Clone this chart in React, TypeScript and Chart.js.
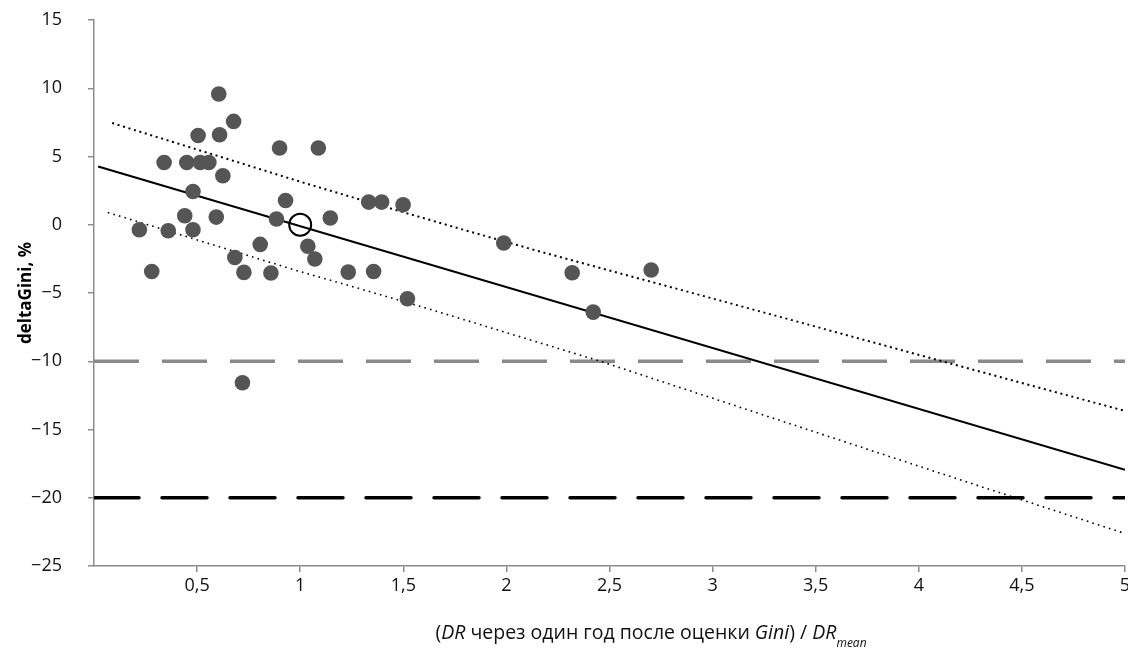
import React, { useEffect, useRef } from "react";
import { Chart, registerables } from "chart.js";

Chart.register(...registerables);

// Observed points: x = DR ratio, y = deltaGini (%)
const pointX = [
  0.22, 0.28, 0.34, 0.36, 0.44, 0.45, 0.48, 0.48, 0.505, 0.515,
  0.557, 0.593, 0.605, 0.609, 0.625, 0.683, 0.677, 0.727, 0.72, 0.806,
  0.858, 0.885, 0.9, 0.929, 1.037, 1.071, 1.088, 1.146, 1.233, 1.332,
  1.395, 1.356, 1.499, 1.52, 1.987, 2.319, 2.421, 2.702,
];
const pointY = [
  -0.37, -3.42, 4.56, -0.44, 0.66, 4.56, -0.37, 2.44, 6.54, 4.56,
  4.56, 0.56, 9.58, 6.59, 3.59, -2.4, 7.57, -3.49, -11.57, -1.44,
  -3.54, 0.42, 5.62, 1.78, -1.58, -2.51, 5.62, 0.49, -3.47, 1.66,
  1.66, -3.42, 1.47, -5.42, -1.34, -3.52, -6.4, -3.32,
];

// Mean point (hollow circle)
const meanX = [1];
const meanY = [0];

// Regression line
const fitX = [0.02, 5];
const fitY = [4.27, -17.95];

// Upper prediction band (dotted)
const upperX = [0.088, 0.997, 1.24, 1.774, 2.162, 3.036, 4.444, 5.0];
const upperY = [7.45, 3.17, 2.07, -0.29, -1.96, -5.55, -11.36, -13.64];

// Lower prediction band (dotted)
const lowerX = [0.067, 0.997, 1.24, 1.62, 2.455, 4.2, 4.969, 5.0];
const lowerY = [0.9, -3.42, -4.47, -6.15, -10.0, -18.68, -22.47, -22.62];

// Threshold lines
const thresholdRange = [0, 5];
const thresholdGray = -10;
const thresholdBlack = -20;

// Axis ticks
const xTicks = [0.5, 1, 1.5, 2, 2.5, 3, 3.5, 4, 4.5, 5];
const yTicks = [-25, -20, -15, -10, -5, 0, 5, 10, 15];

const FONT = "'Open Sans', 'Noto Sans', 'DejaVu Sans', sans-serif";
const AXIS_COLOR = "#8c8c8c";

const zip = (xs: number[], ys: number[]) => xs.map((x, i) => ({ x, y: ys[i] }));

export default function App() {
  const canvasRef = useRef<HTMLCanvasElement | null>(null);

  useEffect(() => {
    const canvas = canvasRef.current;
    if (!canvas) return;

    const chart = new Chart(canvas, {
      type: "scatter",
      data: {
        datasets: [
          {
            label: "points",
            data: zip(pointX, pointY),
            backgroundColor: "#555555",
            borderWidth: 0,
            pointRadius: 7.8,
            showLine: false,
            order: 1,
          },
          {
            label: "mean",
            data: zip(meanX, meanY),
            backgroundColor: "rgba(0,0,0,0)",
            borderColor: "#000000",
            borderWidth: 2,
            pointRadius: 11,
            showLine: false,
            order: 0,
          },
          {
            label: "fit",
            data: zip(fitX, fitY),
            showLine: true,
            borderColor: "#000000",
            borderWidth: 2,
            pointRadius: 0,
            order: 3,
          },
          {
            label: "upper",
            data: zip(upperX, upperY),
            showLine: true,
            borderColor: "#000000",
            borderWidth: 2,
            borderDash: [2, 3.7],
            pointRadius: 0,
            tension: 0,
            order: 4,
          },
          {
            label: "lower",
            data: zip(lowerX, lowerY),
            showLine: true,
            borderColor: "#000000",
            borderWidth: 1.6,
            borderDash: [1.6, 4.2],
            pointRadius: 0,
            tension: 0,
            order: 4,
          },
          {
            label: "gray threshold",
            data: zip(thresholdRange, thresholdRange.map(() => thresholdGray)),
            showLine: true,
            borderColor: "#8a8a8a",
            borderWidth: 3.5,
            borderDash: [45, 23],
            pointRadius: 0,
            order: 5,
          },
          {
            label: "black threshold",
            data: zip(thresholdRange, thresholdRange.map(() => thresholdBlack)),
            showLine: true,
            borderColor: "#000000",
            borderWidth: 3.5,
            borderDash: [45, 23],
            borderCapStyle: "round",
            pointRadius: 0,
            order: 5,
          },
        ],
      },
      options: {
        animation: false,
        responsive: true,
        maintainAspectRatio: false,
        layout: { autoPadding: false, padding: { top: 20, right: 3, left: 0, bottom: 0 } },
        plugins: {
          legend: { display: false },
          tooltip: { enabled: false },
        },
        scales: {
          x: {
            type: "linear",
            min: 0,
            max: 5,
            afterBuildTicks: (scale: any) => {
              scale.ticks = xTicks.map((v) => ({ value: v }));
            },
            afterFit: (scale: any) => {
              scale.height = 86;
              scale.paddingLeft = 0;
              scale.paddingRight = 0;
            },
            ticks: {
              autoSkip: false,
              maxRotation: 0,
              padding: 3,
              color: "#111",
              font: { family: FONT, size: 18 },
              callback: (v: any) => String(v).replace(".", ","),
            },
            grid: {
              display: true,
              drawOnChartArea: false,
              drawTicks: true,
              tickLength: 6,
              color: AXIS_COLOR,
              lineWidth: 1.5,
            },
            border: { display: true, color: AXIS_COLOR, width: 1.5 },
          },
          y: {
            type: "linear",
            min: -25,
            max: 15,
            afterBuildTicks: (scale: any) => {
              scale.ticks = yTicks.map((v) => ({ value: v }));
            },
            afterFit: (scale: any) => {
              scale.width = 94;
              scale.paddingTop = 0;
              scale.paddingBottom = 0;
            },
            ticks: {
              autoSkip: false,
              padding: 26,
              color: "#111",
              font: { family: FONT, size: 18 },
              callback: (v: any) => (Number(v) < 0 ? "\u2212" + Math.abs(Number(v)) : String(v)),
            },
            grid: {
              display: true,
              drawOnChartArea: false,
              drawTicks: true,
              tickLength: 6,
              color: AXIS_COLOR,
              lineWidth: 1.5,
            },
            border: { display: true, color: AXIS_COLOR, width: 1.5 },
            title: {
              display: true,
              text: "deltaGini, %",
              color: "#000",
              font: { family: FONT, size: 17, weight: "bold" },
              padding: { top: 16, bottom: 0 },
            },
          },
        },
      },
    });

    return () => chart.destroy();
  }, []);

  return (
    <div
      style={{
        position: "fixed",
        left: 0,
        top: 0,
        width: 1128,
        height: 652,
        background: "#fff",
      }}
    >
      <canvas ref={canvasRef} />
      <div
        style={{
          position: "absolute",
          left: 0,
          width: 1128,
          top: 619,
          paddingLeft: 174,
          boxSizing: "border-box",
          textAlign: "center",
          fontFamily: FONT,
          fontSize: 19.5,
          color: "#111",
          lineHeight: "26px",
          whiteSpace: "nowrap",
        }}
      >
        (<i>DR</i> через один год после оценки <i>Gini</i>) / <i>DR</i>
        <i style={{ fontSize: 12, position: "relative", top: 8 }}>mean</i>
      </div>
    </div>
  );
}
